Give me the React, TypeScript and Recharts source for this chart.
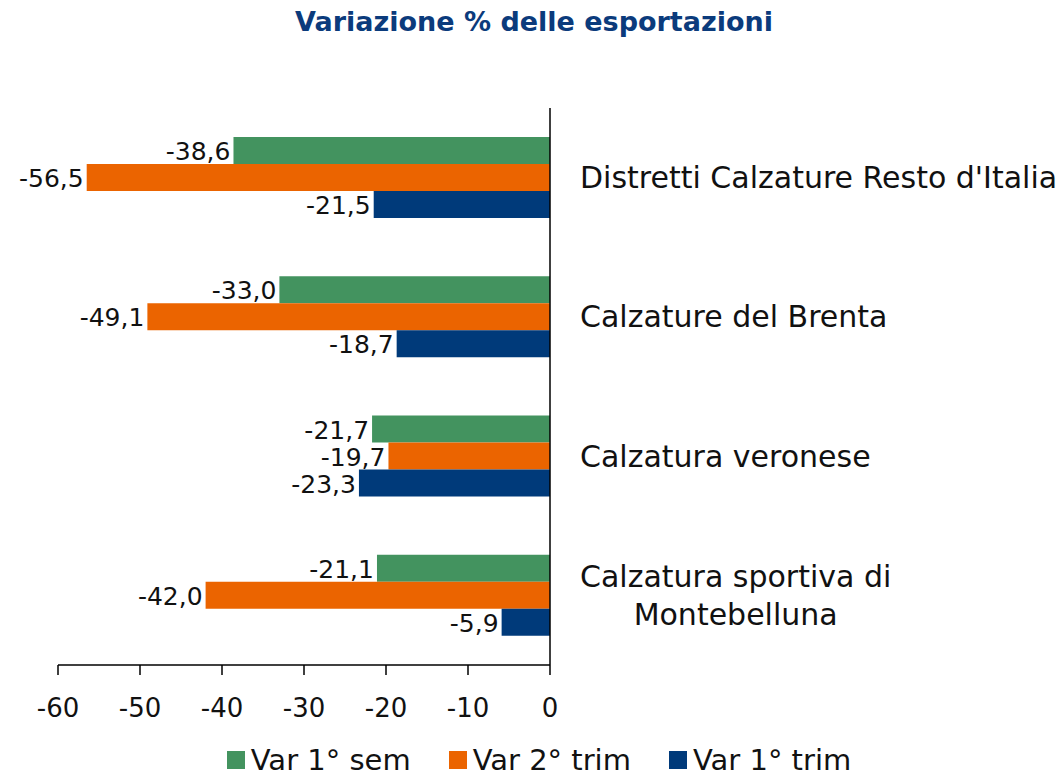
import { Bar, BarChart, LabelList, Legend, XAxis, YAxis } from "recharts";

const CATEGORIES = [
  "Distretti Calzature Resto d'Italia",
  "Calzature del Brenta",
  "Calzatura veronese",
  "Calzatura sportiva di Montebelluna",
];
// the last category wraps onto two lines in the original
const CATEGORY_LINES: Record<string, string[]> = {
  "Calzatura sportiva di Montebelluna": ["Calzatura sportiva di", "Montebelluna"],
};

const VAR_1_SEM = [-38.6, -33.0, -21.7, -21.1];
const VAR_2_TRIM = [-56.5, -49.1, -19.7, -42.0];
const VAR_1_TRIM = [-21.5, -18.7, -23.3, -5.9];

const X_TICKS = [-60, -50, -40, -30, -20, -10, 0];

const SERIES = [
  { key: "sem1", name: "Var 1° sem", color: "#43935F" },
  { key: "trim2", name: "Var 2° trim", color: "#EB6400" },
  { key: "trim1", name: "Var 1° trim", color: "#003A7A" },
];

const FONT = "'DejaVu Sans', sans-serif";
const TEXT = "#111";

const data = CATEGORIES.map((name, i) => ({
  name,
  sem1: VAR_1_SEM[i],
  trim2: VAR_2_TRIM[i],
  trim1: VAR_1_TRIM[i],
}));

let measureCtx: CanvasRenderingContext2D | null = null;
function textWidth(text: string, font: string) {
  if (!measureCtx) measureCtx = document.createElement("canvas").getContext("2d");
  if (!measureCtx) return text.length * 15;
  measureCtx.font = font;
  return measureCtx.measureText(text).width;
}

const formatValue = (v: number) => v.toFixed(1).replace(".", ",");

/** Category label block: left-aligned at the tick x, lines centred within the block. */
function CategoryTick(props: any) {
  const { x, y, payload } = props;
  const lines = CATEGORY_LINES[payload.value] ?? [payload.value];
  const maxW = Math.max(...lines.map((l: string) => textWidth(l, `30px ${FONT}`)));
  const lineH = 38;
  const y0 = Number(y) - ((lines.length - 1) * lineH) / 2;
  return (
    <g>
      {lines.map((line: string, i: number) => (
        <text
          key={i}
          x={Number(x) + maxW / 2}
          y={y0 + i * lineH}
          textAnchor="middle"
          dominantBaseline="central"
          fontFamily={FONT}
          fontSize={30}
          fill={TEXT}
        >
          {line}
        </text>
      ))}
    </g>
  );
}

/** value sits just left of the bar's (negative) end */
function ValueLabel(props: any) {
  const x = Number(props.x);
  const w = Number(props.width);
  const y = Number(props.y);
  const h = Number(props.height);
  const left = Math.min(x, x + w);
  return (
    <text
      x={left - 3}
      y={y + h / 2 + 1}
      textAnchor="end"
      dominantBaseline="central"
      fontFamily={FONT}
      fontSize={25}
      fill={TEXT}
    >
      {formatValue(Number(props.value))}
    </text>
  );
}

function LegendContent() {
  return (
    <div
      style={{
        display: "flex",
        justifyContent: "center",
        gap: 38,
        fontFamily: FONT,
        fontSize: 29,
        lineHeight: "34px",
        color: TEXT,
        paddingLeft: 20,
      }}
    >
      {SERIES.map((s) => (
        <div key={s.key} style={{ display: "flex", alignItems: "center", gap: 6 }}>
          <span style={{ width: 18, height: 18, background: s.color, display: "inline-block" }} />
          <span>{s.name}</span>
        </div>
      ))}
    </div>
  );
}

export default function App() {
  return (
    <div style={{ position: "absolute", top: 0, left: 0, width: 1058, height: 781, background: "#fff" }}>
      <div
        style={{
          position: "absolute",
          top: 6,
          left: 5,
          width: 1058,
          textAlign: "center",
          fontFamily: FONT,
          fontWeight: "bold",
          fontSize: 27,
          color: "#0B3B7C",
        }}
      >
        Variazione % delle esportazioni
      </div>
      <BarChart
        width={1058}
        height={781}
        data={data}
        layout="vertical"
        margin={{ top: 108, right: 38, bottom: 56, left: 58 }}
        barSize={27}
        barGap={0}
      >
        <XAxis
          type="number"
          domain={[-60, 0]}
          ticks={X_TICKS}
          height={60}
          axisLine={{ stroke: "#000", strokeWidth: 1.5 }}
          tickLine={{ stroke: "#000", strokeWidth: 1.5 }}
          tickSize={10}
          tickMargin={24}
          tick={{ fontFamily: FONT, fontSize: 26, fill: TEXT }}
        />
        <YAxis
          type="category"
          dataKey="name"
          orientation="right"
          width={470}
          axisLine={{ stroke: "#000", strokeWidth: 1.5 }}
          tickLine={false}
          tickSize={0}
          tickMargin={30}
          tick={<CategoryTick />}
          interval={0}
        />
        <Legend
          layout="horizontal"
          verticalAlign="middle"
          align="center"
          content={<LegendContent />}
          wrapperStyle={{ top: 743, left: 0, width: 1058 }}
        />
        {SERIES.map((s) => (
          <Bar key={s.key} dataKey={s.key} name={s.name} fill={s.color} isAnimationActive={false}>
            <LabelList dataKey={s.key} content={<ValueLabel />} />
          </Bar>
        ))}
      </BarChart>
    </div>
  );
}
